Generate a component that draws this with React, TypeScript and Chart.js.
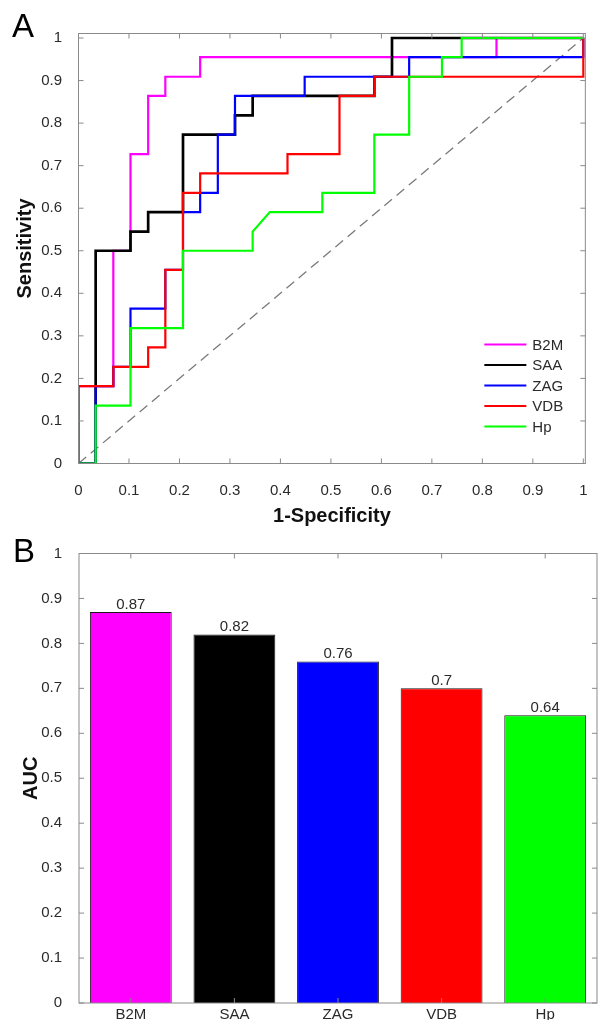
import React, { useEffect, useRef } from 'react';
import { Chart, registerables } from 'chart.js';

Chart.register(...registerables);

const FONT = "'Liberation Sans', Arial, Helvetica, sans-serif";
const frameColor = '#8a8a8a';
const textColor = '#2a2a2a';

// ---------- Data ----------
const seriesNames = ['B2M', 'SAA', 'ZAG', 'VDB', 'Hp'];
const seriesColors = ['#ff00ff', '#000000', '#0000ff', '#ff0000', '#00ff00'];

// ROC curves (1-Specificity, Sensitivity)
const b2mFpr = [0, 0, 0.069, 0.069, 0.103, 0.103, 0.138, 0.138, 0.172, 0.172, 0.241, 0.241, 0.828, 0.828, 1];
const b2mTpr = [0, 0.182, 0.182, 0.5, 0.5, 0.727, 0.727, 0.864, 0.864, 0.909, 0.909, 0.955, 0.955, 1, 1];

const saaFpr = [0, 0.034, 0.034, 0.103, 0.103, 0.138, 0.138, 0.207, 0.207, 0.31, 0.31, 0.345, 0.345, 0.586, 0.586, 0.621, 0.621, 1];
const saaTpr = [0, 0, 0.5, 0.5, 0.545, 0.545, 0.591, 0.591, 0.773, 0.773, 0.818, 0.818, 0.864, 0.864, 0.909, 0.909, 1, 1];

const zagFpr = [0, 0.034, 0.034, 0.069, 0.069, 0.103, 0.103, 0.172, 0.172, 0.207, 0.207, 0.241, 0.241, 0.276, 0.276, 0.31, 0.31, 0.448, 0.448, 0.655, 0.655, 1, 1];
const zagTpr = [0, 0, 0.182, 0.182, 0.227, 0.227, 0.364, 0.364, 0.455, 0.455, 0.591, 0.591, 0.636, 0.636, 0.773, 0.773, 0.864, 0.864, 0.909, 0.909, 0.955, 0.955, 1];

const vdbFpr = [0, 0, 0.069, 0.069, 0.138, 0.138, 0.172, 0.172, 0.207, 0.207, 0.241, 0.241, 0.414, 0.414, 0.517, 0.517, 0.586, 0.586, 1, 1];
const vdbTpr = [0, 0.182, 0.182, 0.227, 0.227, 0.273, 0.273, 0.455, 0.455, 0.636, 0.636, 0.682, 0.682, 0.727, 0.727, 0.864, 0.864, 0.909, 0.909, 1];

const hpFpr = [0, 0.034, 0.034, 0.103, 0.103, 0.207, 0.207, 0.345, 0.345, 0.379, 0.483, 0.483, 0.586, 0.586, 0.655, 0.655, 0.72, 0.72, 0.759, 0.759, 1];
const hpTpr = [0, 0, 0.136, 0.136, 0.318, 0.318, 0.5, 0.5, 0.545, 0.591, 0.591, 0.636, 0.636, 0.773, 0.773, 0.909, 0.909, 0.955, 0.955, 1, 1];

const chanceFpr = [0, 1];
const chanceTpr = [0, 1];

// AUC bars
const aucCategories = ['B2M', 'SAA', 'ZAG', 'VDB', 'Hp'];
const aucValues = [0.87, 0.82, 0.76, 0.7, 0.64];

const tickLabels = ['0', '0.1', '0.2', '0.3', '0.4', '0.5', '0.6', '0.7', '0.8', '0.9', '1'];

const rocFpr = [b2mFpr, saaFpr, zagFpr, vdbFpr, hpFpr];
const rocTpr = [b2mTpr, saaTpr, zagTpr, vdbTpr, hpTpr];
const drawOrder = [4, 3, 2, 1, 0];
const lineWidths = [2.2, 2.7, 2.2, 2.2, 2.2];

// ---------- Plugins ----------
const fmtTick = (v: number) => {
  const i = Math.round(Number(v) * 10);
  return tickLabels[i] !== undefined ? tickLabels[i] : String(v);
};

const makeFramePlugin = (letter: string, lx: number, ly: number) => ({
  id: 'frame' + letter,
  afterDraw(chart: any) {
    const { ctx, chartArea: a, scales } = chart;
    ctx.save();
    ctx.strokeStyle = frameColor;
    ctx.lineWidth = 1;
    ctx.strokeRect(a.left, a.top, a.right - a.left, a.bottom - a.top);
    const tl = 5;
    ctx.beginPath();
    const xs = scales.x;
    xs.ticks.forEach((_t: any, i: number) => {
      const p = xs.getPixelForTick(i);
      ctx.moveTo(p, a.bottom);
      ctx.lineTo(p, a.bottom - tl);
      ctx.moveTo(p, a.top);
      ctx.lineTo(p, a.top + tl);
    });
    const ys = scales.y;
    ys.ticks.forEach((_t: any, i: number) => {
      const p = ys.getPixelForTick(i);
      ctx.moveTo(a.left, p);
      ctx.lineTo(a.left + tl, p);
      ctx.moveTo(a.right, p);
      ctx.lineTo(a.right - tl, p);
    });
    ctx.stroke();
    ctx.fillStyle = '#000';
    ctx.font = `33px ${FONT}`;
    ctx.textBaseline = 'alphabetic';
    ctx.textAlign = 'left';
    ctx.fillText(letter, lx, ly);
    ctx.restore();
  },
});

const rocLegendPlugin = {
  id: 'rocLegend',
  afterDraw(chart: any) {
    const { ctx, chartArea: a } = chart;
    ctx.save();
    const x0 = a.right - 101;
    const len = 42;
    const gap = 20.5;
    ctx.font = `15px ${FONT}`;
    ctx.textBaseline = 'middle';
    ctx.textAlign = 'left';
    seriesNames.forEach((name, i) => {
      const y = a.bottom - 37 - (seriesNames.length - 1 - i) * gap;
      ctx.strokeStyle = seriesColors[i];
      ctx.lineWidth = 2;
      ctx.beginPath();
      ctx.moveTo(x0, y);
      ctx.lineTo(x0 + len, y);
      ctx.stroke();
      ctx.fillStyle = textColor;
      ctx.fillText(name, x0 + len + 6, y + 1);
    });
    ctx.restore();
  },
};

const barLabelPlugin = {
  id: 'barLabels',
  afterDatasetsDraw(chart: any) {
    const { ctx } = chart;
    const meta = chart.getDatasetMeta(0);
    ctx.save();
    ctx.font = `15px ${FONT}`;
    ctx.fillStyle = textColor;
    ctx.textAlign = 'center';
    ctx.textBaseline = 'alphabetic';
    meta.data.forEach((bar: any, i: number) => {
      ctx.fillText(String(aucValues[i]), bar.x, bar.y - 3);
    });
    ctx.restore();
  },
};

// ---------- Charts ----------
function RocChart() {
  const ref = useRef<HTMLCanvasElement>(null);
  useEffect(() => {
    const datasets: any[] = seriesNames.map((name, s) => ({
      label: name,
      data: rocFpr[s].map((x, i) => ({ x, y: rocTpr[s][i] })),
      borderColor: seriesColors[s],
      backgroundColor: seriesColors[s],
      borderWidth: lineWidths[s],
      pointRadius: 0,
      tension: 0,
      fill: false,
      order: drawOrder[s],
    }));
    datasets.push({
      label: 'chance',
      data: chanceFpr.map((x, i) => ({ x, y: chanceTpr[i] })),
      borderColor: '#7a7a7a',
      borderWidth: 1.3,
      borderDash: [10, 6],
      pointRadius: 0,
      fill: false,
      order: 10,
    });
    const chart = new Chart(ref.current as HTMLCanvasElement, {
      type: 'line',
      data: { datasets },
      options: {
        animation: false,
        responsive: false,
        layout: { padding: { left: 0, top: 33.5, right: 2, bottom: 0 }, autoPadding: false },
        plugins: { legend: { display: false }, tooltip: { enabled: false } },
        scales: {
          x: {
            type: 'linear',
            min: 0,
            max: 1.004,
            grid: { display: false },
            border: { display: false },
            ticks: {
              stepSize: 0.1,
              includeBounds: false,
              maxRotation: 0,
              autoSkip: false,
              padding: 10.5,
              color: textColor,
              font: { family: FONT, size: 15 },
              callback: (v: any) => fmtTick(v),
            },
            title: {
              display: true,
              text: '1-Specificity',
              color: '#111',
              font: { family: FONT, size: 20, weight: 'bold' },
              padding: { top: 0, bottom: 2 },
            },
            afterFit: (s: any) => {
              s.height = 66.5;
            },
          },
          y: {
            type: 'linear',
            min: 0,
            max: 1.0106,
            grid: { display: false },
            border: { display: false },
            ticks: {
              stepSize: 0.1,
              includeBounds: false,
              autoSkip: false,
              padding: 8.5,
              color: textColor,
              font: { family: FONT, size: 15 },
              callback: (v: any) => fmtTick(v),
            },
            title: {
              display: true,
              text: 'Sensitivity',
              color: '#111',
              font: { family: FONT, size: 20, weight: 'bold' },
              padding: { top: 13, bottom: 0 },
            },
            afterFit: (s: any) => {
              s.width = 78.5;
            },
          },
        },
      } as any,
      plugins: [makeFramePlugin('A', 12, 37), rocLegendPlugin],
    });
    return () => chart.destroy();
  }, []);
  return (
    <canvas
      ref={ref}
      width={598}
      height={530}
      style={{ position: 'absolute', left: 0, top: 0, width: 598, height: 530, display: 'block' }}
    />
  );
}

function AucChart() {
  const ref = useRef<HTMLCanvasElement>(null);
  useEffect(() => {
    const chart = new Chart(ref.current as HTMLCanvasElement, {
      type: 'bar',
      data: {
        labels: aucCategories,
        datasets: [
          {
            label: 'AUC',
            data: aucValues,
            backgroundColor: seriesColors,
            borderColor: '#1a1a1a',
            borderWidth: 1,
            barPercentage: 0.79,
            categoryPercentage: 1,
          },
        ],
      },
      options: {
        animation: false,
        responsive: false,
        layout: { padding: { left: 0, top: 33.5, right: 1, bottom: 0 }, autoPadding: false },
        plugins: { legend: { display: false }, tooltip: { enabled: false } },
        scales: {
          x: {
            type: 'category',
            grid: { display: false },
            border: { display: false },
            ticks: {
              padding: -5,
              maxRotation: 0,
              autoSkip: false,
              color: textColor,
              font: { family: FONT, size: 15 },
            },
            afterFit: (s: any) => {
              s.height = 17;
            },
          },
          y: {
            type: 'linear',
            min: 0,
            max: 1,
            grid: { display: false },
            border: { display: false },
            ticks: {
              stepSize: 0.1,
              autoSkip: false,
              padding: 9,
              color: textColor,
              font: { family: FONT, size: 15 },
              callback: (v: any) => fmtTick(v),
            },
            title: {
              display: true,
              text: 'AUC',
              color: '#111',
              font: { family: FONT, size: 20, weight: 'bold' },
              padding: { top: 19, bottom: 0 },
            },
            afterFit: (s: any) => {
              s.width = 79;
            },
          },
        },
      } as any,
      plugins: [makeFramePlugin('B', 13, 42), barLabelPlugin],
    });
    return () => chart.destroy();
  }, []);
  return (
    <canvas
      ref={ref}
      width={598}
      height={501}
      style={{ position: 'absolute', left: 0, top: 520, width: 598, height: 501, display: 'block' }}
    />
  );
}

export default function App() {
  return (
    <div style={{ position: 'absolute', left: 0, top: 0, width: 598, height: 1021, background: '#fff', overflow: 'hidden' }}>
      <RocChart />
      <AucChart />
    </div>
  );
}
